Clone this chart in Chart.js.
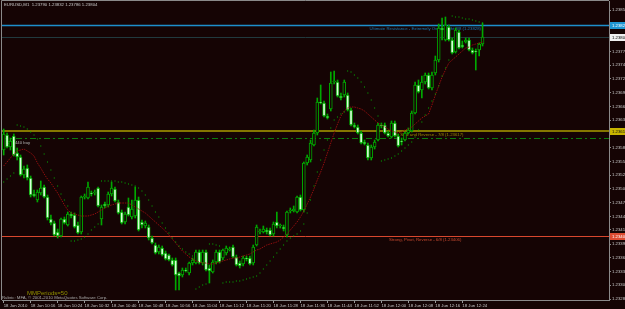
<!DOCTYPE html>
<html>
<head>
<meta charset="utf-8">
<script src="https://cdn.jsdelivr.net/npm/chart.js@4.4.1/dist/chart.umd.min.js"></script>
<style>
  html, body { margin: 0; padding: 0; background: #150404; }
  canvas { display: block; }
</style>
</head>
<body>
<canvas id="myChart_eurusd" width="625" height="309"></canvas>
<script>
var symbol = 'EURUSD,M1';
var slotCount = 180;
var timeLabels = ['18 Jun 2010', '18 Jun 10:16', '18 Jun 10:24', '18 Jun 10:32', '18 Jun 10:40', '18 Jun 10:48',
  '18 Jun 10:56', '18 Jun 11:04', '18 Jun 11:12', '18 Jun 11:20', '18 Jun 11:28', '18 Jun 11:36', '18 Jun 11:44',
  '18 Jun 11:52', '18 Jun 12:00', '18 Jun 12:08', '18 Jun 12:16', '18 Jun 12:24'];

var opens = [
  1.23578, 1.23608, 1.23584, 1.23606, 1.23572, 1.23564, 1.23528, 1.23542, 1.23522, 1.23490,
  1.23478, 1.23492, 1.23504, 1.23484, 1.23440, 1.23432, 1.23414, 1.23406, 1.23440, 1.23428,
  1.23450, 1.23448, 1.23428, 1.23414, 1.23484, 1.23482, 1.23492, 1.23492, 1.23502, 1.23440,
  1.23470, 1.23468, 1.23490, 1.23500, 1.23474, 1.23454, 1.23434, 1.23464, 1.23444, 1.23446,
  1.23478, 1.23434, 1.23426, 1.23424, 1.23402, 1.23388, 1.23374, 1.23382, 1.23372, 1.23368,
  1.23358, 1.23358, 1.23332, 1.23328, 1.23338, 1.23332, 1.23352, 1.23352, 1.23374, 1.23352,
  1.23374, 1.23342, 1.23334, 1.23354, 1.23374, 1.23362, 1.23372, 1.23378, 1.23384, 1.23364,
  1.23352, 1.23350, 1.23362, 1.23362, 1.23352, 1.23388, 1.23414, 1.23414, 1.23418, 1.23418,
  1.23410, 1.23434, 1.23426, 1.23424, 1.23408, 1.23456, 1.23456, 1.23454, 1.23484, 1.23458,
  1.23552, 1.23558, 1.23588, 1.23612, 1.23674, 1.23672, 1.23646, 1.23660, 1.23714, 1.23714,
  1.23686, 1.23688, 1.23688, 1.23658, 1.23628, 1.23624, 1.23612, 1.23594, 1.23588, 1.23562,
  1.23584, 1.23598, 1.23628, 1.23628, 1.23612, 1.23604, 1.23632, 1.23606, 1.23596, 1.23598,
  1.23612, 1.23616, 1.23652, 1.23708, 1.23698, 1.23714, 1.23728, 1.23702, 1.23732, 1.23758,
  1.23822, 1.23798, 1.23824, 1.23798, 1.23774, 1.23814, 1.23788, 1.23794, 1.23798, 1.23778,
  1.23776, 1.23778, 1.23790
];
var highs = [
  1.23620, 1.23612, 1.23602, 1.23610, 1.23582, 1.23568, 1.23546, 1.23548, 1.23526, 1.23498,
  1.23498, 1.23516, 1.23508, 1.23488, 1.23448, 1.23436, 1.23420, 1.23442, 1.23444, 1.23454,
  1.23454, 1.23452, 1.23434, 1.23486, 1.23490, 1.23514, 1.23496, 1.23498, 1.23504, 1.23468,
  1.23474, 1.23494, 1.23514, 1.23504, 1.23478, 1.23458, 1.23454, 1.23482, 1.23478, 1.23504,
  1.23484, 1.23438, 1.23436, 1.23428, 1.23406, 1.23392, 1.23388, 1.23386, 1.23376, 1.23370,
  1.23362, 1.23362, 1.23334, 1.23342, 1.23342, 1.23354, 1.23362, 1.23378, 1.23378, 1.23378,
  1.23378, 1.23348, 1.23358, 1.23378, 1.23378, 1.23380, 1.23386, 1.23384, 1.23388, 1.23368,
  1.23356, 1.23366, 1.23366, 1.23366, 1.23388, 1.23428, 1.23420, 1.23426, 1.23422, 1.23422,
  1.23434, 1.23454, 1.23430, 1.23428, 1.23456, 1.23462, 1.23466, 1.23486, 1.23488, 1.23554,
  1.23568, 1.23598, 1.23618, 1.23682, 1.23708, 1.23676, 1.23650, 1.23734, 1.23736, 1.23718,
  1.23692, 1.23718, 1.23692, 1.23662, 1.23632, 1.23628, 1.23616, 1.23598, 1.23592, 1.23588,
  1.23598, 1.23632, 1.23632, 1.23632, 1.23616, 1.23636, 1.23636, 1.23610, 1.23602, 1.23614,
  1.23622, 1.23656, 1.23714, 1.23718, 1.23726, 1.23732, 1.23732, 1.23734, 1.23766, 1.23830,
  1.23842, 1.23844, 1.23828, 1.23802, 1.23822, 1.23818, 1.23796, 1.23802, 1.23802, 1.23782,
  1.23780, 1.23792, 1.23832
];
var lows = [
  1.23568, 1.23582, 1.23578, 1.23566, 1.23558, 1.23526, 1.23522, 1.23518, 1.23484, 1.23484,
  1.23474, 1.23488, 1.23482, 1.23438, 1.23428, 1.23406, 1.23402, 1.23404, 1.23430, 1.23426,
  1.23442, 1.23422, 1.23410, 1.23410, 1.23480, 1.23480, 1.23486, 1.23488, 1.23464, 1.23428,
  1.23462, 1.23464, 1.23486, 1.23474, 1.23450, 1.23430, 1.23430, 1.23446, 1.23440, 1.23442,
  1.23416, 1.23422, 1.23422, 1.23398, 1.23390, 1.23370, 1.23370, 1.23366, 1.23358, 1.23356,
  1.23346, 1.23298, 1.23298, 1.23324, 1.23334, 1.23328, 1.23348, 1.23350, 1.23350, 1.23348,
  1.23336, 1.23312, 1.23332, 1.23350, 1.23352, 1.23358, 1.23368, 1.23376, 1.23362, 1.23346,
  1.23342, 1.23346, 1.23356, 1.23348, 1.23348, 1.23386, 1.23410, 1.23412, 1.23410, 1.23406,
  1.23406, 1.23422, 1.23422, 1.23416, 1.23404, 1.23452, 1.23454, 1.23452, 1.23456, 1.23454,
  1.23548, 1.23554, 1.23586, 1.23608, 1.23670, 1.23644, 1.23640, 1.23656, 1.23710, 1.23684,
  1.23678, 1.23684, 1.23656, 1.23626, 1.23622, 1.23610, 1.23590, 1.23588, 1.23558, 1.23558,
  1.23580, 1.23596, 1.23622, 1.23610, 1.23604, 1.23602, 1.23604, 1.23584, 1.23588, 1.23596,
  1.23610, 1.23614, 1.23650, 1.23692, 1.23682, 1.23710, 1.23700, 1.23698, 1.23728, 1.23754,
  1.23798, 1.23796, 1.23796, 1.23770, 1.23772, 1.23780, 1.23782, 1.23792, 1.23776, 1.23770,
  1.23738, 1.23766, 1.23786
];
var closes = [
  1.23610, 1.23584, 1.23596, 1.23568, 1.23564, 1.23528, 1.23540, 1.23522, 1.23488, 1.23486,
  1.23494, 1.23502, 1.23484, 1.23442, 1.23432, 1.23408, 1.23406, 1.23440, 1.23432, 1.23450,
  1.23446, 1.23424, 1.23412, 1.23484, 1.23486, 1.23504, 1.23490, 1.23494, 1.23466, 1.23464,
  1.23466, 1.23490, 1.23502, 1.23476, 1.23452, 1.23432, 1.23450, 1.23448, 1.23460, 1.23478,
  1.23418, 1.23428, 1.23432, 1.23402, 1.23392, 1.23372, 1.23384, 1.23368, 1.23360, 1.23358,
  1.23348, 1.23328, 1.23326, 1.23338, 1.23336, 1.23352, 1.23358, 1.23374, 1.23352, 1.23374,
  1.23338, 1.23336, 1.23354, 1.23374, 1.23354, 1.23378, 1.23382, 1.23380, 1.23364, 1.23348,
  1.23346, 1.23362, 1.23360, 1.23350, 1.23384, 1.23424, 1.23416, 1.23420, 1.23414, 1.23408,
  1.23430, 1.23426, 1.23428, 1.23420, 1.23454, 1.23458, 1.23460, 1.23484, 1.23458, 1.23552,
  1.23564, 1.23592, 1.23612, 1.23674, 1.23672, 1.23646, 1.23642, 1.23712, 1.23716, 1.23686,
  1.23682, 1.23714, 1.23658, 1.23628, 1.23624, 1.23612, 1.23592, 1.23590, 1.23562, 1.23584,
  1.23594, 1.23628, 1.23626, 1.23612, 1.23606, 1.23632, 1.23606, 1.23586, 1.23594, 1.23612,
  1.23618, 1.23652, 1.23708, 1.23694, 1.23714, 1.23728, 1.23702, 1.23728, 1.23758, 1.23822,
  1.23818, 1.23828, 1.23798, 1.23772, 1.23818, 1.23782, 1.23784, 1.23798, 1.23778, 1.23772,
  1.23774, 1.23790, 1.23804
];
// moving average (dark red)
var maValues = [
  1.23546, 1.23554, 1.23562, 1.23570, 1.23576, 1.23578, 1.23580, 1.23576, 1.23572, 1.23566,
  1.23552, 1.23542, 1.23530, 1.23520, 1.23512, 1.23502, 1.23492, 1.23480, 1.23468, 1.23458,
  1.23452, 1.23450, 1.23448, 1.23446, 1.23446, 1.23446, 1.23448, 1.23450, 1.23454, 1.23458,
  1.23462, 1.23466, 1.23468, 1.23470, 1.23472, 1.23472, 1.23472, 1.23472, 1.23468, 1.23464,
  1.23460, 1.23456, 1.23452, 1.23446, 1.23440, 1.23434, 1.23428, 1.23422, 1.23416, 1.23408,
  1.23400, 1.23392, 1.23384, 1.23376, 1.23370, 1.23364, 1.23360, 1.23356, 1.23354, 1.23352,
  1.23352, 1.23350, 1.23350, 1.23352, 1.23354, 1.23356, 1.23358, 1.23360, 1.23362, 1.23362,
  1.23364, 1.23366, 1.23368, 1.23370, 1.23374, 1.23378, 1.23380, 1.23384, 1.23388, 1.23390,
  1.23392, 1.23394, 1.23398, 1.23404, 1.23410, 1.23418, 1.23426, 1.23434, 1.23444, 1.23456,
  1.23470, 1.23484, 1.23500, 1.23518, 1.23534, 1.23552, 1.23572, 1.23592, 1.23612, 1.23630,
  1.23646, 1.23656, 1.23662, 1.23664, 1.23664, 1.23662, 1.23660, 1.23656, 1.23650, 1.23644,
  1.23638, 1.23632, 1.23628, 1.23624, 1.23620, 1.23616, 1.23614, 1.23612, 1.23614, 1.23618,
  1.23620, 1.23624, 1.23630, 1.23636, 1.23642, 1.23646, 1.23650, 1.23668, 1.23688, 1.23706,
  1.23724, 1.23738, 1.23752, 1.23758, 1.23764, 1.23770, 1.23776, 1.23782, 1.23784, 1.23788,
  1.23790, 1.23792, 1.23794
];
// parabolic SAR (green dots)
var sarValues = [
  1.23514, 1.23520, 1.23526, 1.23532, 1.23628, 1.23626, 1.23624, 1.23620, 1.23614, 1.23608,
  1.23600, 1.23586, 1.23570, 1.23554, 1.23538, 1.23522, 1.23506, 1.23490, 1.23478, 1.23466,
  1.23396, 1.23396, 1.23398, 1.23400, 1.23404, 1.23410, 1.23418, 1.23424, 1.23430, 1.23516,
  1.23516, 1.23516, 1.23516, 1.23516, 1.23514, 1.23514, 1.23512, 1.23510, 1.23508, 1.23506,
  1.23502, 1.23496, 1.23488, 1.23478, 1.23466, 1.23454, 1.23444, 1.23432, 1.23422, 1.23412,
  1.23402, 1.23394, 1.23386, 1.23380, 1.23374, 1.23370, 1.23366, 1.23300, 1.23304, 1.23308,
  1.23310, 1.23390, 1.23390, 1.23388, 1.23386, 1.23312, 1.23314, 1.23314, 1.23314, 1.23316,
  1.23316, 1.23318, 1.23320, 1.23322, 1.23324, 1.23326, 1.23332, 1.23340, 1.23348, 1.23356,
  1.23364, 1.23372, 1.23380, 1.23388, 1.23396, 1.23402, 1.23406, 1.23410, 1.23416, 1.23430,
  1.23452, 1.23478, 1.23506, 1.23534, 1.23558, 1.23578, 1.23598, 1.23622, 1.23638, 1.23644,
  1.23650, 1.23654, 1.23736, 1.23734, 1.23728, 1.23722, 1.23714, 1.23704, 1.23692, 1.23678,
  1.23662, 1.23646, 1.23556, 1.23558, 1.23560, 1.23562, 1.23566, 1.23570, 1.23576, 1.23582,
  1.23588, 1.23594, 1.23604, 1.23618, 1.23634, 1.23648, 1.23662, 1.23676, 1.23690, 1.23706,
  1.23726, 1.23742, 1.23758, 1.23846, 1.23844, 1.23844, 1.23842, 1.23840, 1.23840, 1.23838,
  1.23836, 1.23834, 1.23832
];

var yTicks = [1.23280, 1.23308, 1.23335, 1.23363, 1.23390, 1.23418, 1.23445, 1.23473, 1.23500, 1.23528, 1.23555,
  1.23583, 1.23610, 1.23638, 1.23665, 1.23693, 1.23720, 1.23748, 1.23775, 1.23803, 1.23830, 1.23858];
var yMin = 1.23278, yMax = 1.23876;

// Murrey Math lines
var mmLabels = ['Ultimate Resistance - Extremely Overbought 8/8', 'Weak, Stall and Reverse - 7/8', 'Strong, Pivot, Reverse - 6/8'];
var mmPrices = [1.23828, 1.23617, 1.23406];
var orderPrice = 1.23601;
var orderLabel = '#1290440 buy';
var bidPrice = closes[closes.length - 1];

var slots = [];
for (var i = 0; i < slotCount; i++) slots.push(i);

var bg = '#150404';
var green = '#00a800';
var bodyColors = closes.map(function (c, i) { return c >= opens[i] ? bg : '#d8ffd8'; });
var font = '"Liberation Sans", Arial, sans-serif';

var overlay = {
  id: 'overlay',
  beforeDraw: function (chart) {
    var c = chart.ctx;
    c.save();
    c.fillStyle = bg;
    c.fillRect(0, 0, chart.width, chart.height);
    c.restore();
  },
  beforeDatasetsDraw: function (chart) {
    var c = chart.ctx, a = chart.chartArea, y = chart.scales.y, x = chart.scales.x;
    c.save();
    function hline(price, color, width, dash) {
      var py = Math.round(y.getPixelForValue(price)) + (width % 2 ? 0.5 : 0);
      c.beginPath();
      c.setLineDash(dash || []);
      c.strokeStyle = color;
      c.lineWidth = width;
      c.moveTo(a.left, py);
      c.lineTo(a.right, py);
      c.stroke();
    }
    hline(bidPrice, '#213a3e', 1);
    hline(orderPrice, '#0b7d0b', 1, [6, 3, 2, 3]);
    hline(mmPrices[0], '#1e8fcc', 1.5);
    hline(mmPrices[1], '#857600', 2);
    hline(mmPrices[2], '#d8472e', 1);

    c.setLineDash([]);
    c.font = '4.3px ' + font;
    c.textBaseline = 'middle';
    c.textAlign = 'center';
    var tx = x.getPixelForValue(125);
    var textColors = ['#1a7bb4', '#9a8a00', '#c84a30'];
    mmLabels.forEach(function (t, i) {
      c.fillStyle = textColors[i];
      c.fillText(t + ' (' + mmPrices[i].toFixed(5) + ')', tx, y.getPixelForValue(mmPrices[i]) + 4);
    });
    c.textAlign = 'left';
    c.fillStyle = '#b4b4b4';
    c.fillText(orderLabel, a.left + 1, y.getPixelForValue(orderPrice) + 4);
    c.restore();
  },
  afterDraw: function (chart) {
    var c = chart.ctx, a = chart.chartArea, y = chart.scales.y;
    c.save();
    // frame
    c.strokeStyle = '#8a8a8a';
    c.lineWidth = 1;
    c.beginPath();
    c.moveTo(a.left - 0.5, a.bottom);
    c.lineTo(a.left - 0.5, a.top - 0.5);
    c.lineTo(a.right, a.top - 0.5);
    c.stroke();

    function axisBox(price, fill, textColor) {
      var py = Math.round(y.getPixelForValue(price));
      c.fillStyle = fill;
      c.fillRect(a.right + 1, py - 3, chart.width - a.right - 1, 7);
      c.fillStyle = textColor;
      c.font = '4.3px ' + font;
      c.textAlign = 'left';
      c.textBaseline = 'middle';
      c.fillText(price.toFixed(5), a.right + 3, py + 0.5);
    }
    axisBox(mmPrices[0], '#1e96d2', '#ffffff');
    axisBox(bidPrice, '#f0f0f0', '#000000');
    axisBox(mmPrices[1], '#c8b400', '#101010');
    axisBox(mmPrices[2], '#dc4b32', '#ffffff');

    var n = closes.length - 1;
    c.fillStyle = '#c8c8c8';
    c.font = '4.3px ' + font;
    c.textAlign = 'left';
    c.textBaseline = 'middle';
    c.fillText(symbol + '  ' + opens[n].toFixed(5) + ' ' + highs[n].toFixed(5) + ' ' + lows[n].toFixed(5) + ' ' + closes[n].toFixed(5), a.left + 2, 5);

    c.fillStyle = '#8f8f00';
    c.font = '6px ' + font;
    c.fillText('MMPeriods=50', 27, 293);
    c.fillStyle = '#a8a8a8';
    c.font = '4.3px ' + font;
    c.fillText('Rubric: MFA, \u00a9 2001-2010 MetaQuotes Software Corp.', a.left, 297.5);
    c.restore();
  }
};

var ctx = document.getElementById('myChart_eurusd');
var myChart = new Chart(ctx, {
  type: 'bar',
  data: {
    labels: slots,
    datasets: [
      {
        type: 'line',
        data: sarValues,
        showLine: false,
        pointStyle: 'rect',
        pointRadius: 0.7,
        pointHoverRadius: 0,
        pointBorderWidth: 0,
        pointBackgroundColor: '#00b800',
        order: 0
      },
      {
        type: 'line',
        data: maValues,
        borderColor: '#8e0e0e',
        borderWidth: 1,
        borderDash: [1.5, 1],
        pointRadius: 0,
        pointHoverRadius: 0,
        tension: 0,
        order: 1
      },
      {
        data: opens.map(function (o, i) { return [o, closes[i]]; }),
        backgroundColor: bodyColors,
        borderColor: green,
        borderWidth: 1,
        borderSkipped: false,
        barThickness: 3,
        grouped: false,
        order: 2
      },
      {
        data: lows.map(function (l, i) { return [l, highs[i]]; }),
        backgroundColor: green,
        barThickness: 1,
        grouped: false,
        order: 3
      }
    ]
  },
  options: {
    responsive: false,
    animation: false,
    devicePixelRatio: 1,
    layout: { autoPadding: false, padding: { left: 2, top: 1, right: 0, bottom: 0 } },
    plugins: { legend: { display: false }, tooltip: { enabled: false } },
    scales: {
      x: {
        offset: true,
        grid: {
          offset: false,
          drawOnChartArea: false,
          tickLength: 3,
          color: function (c) { return c.index % 8 === 0 && c.index / 8 < timeLabels.length ? '#9a9a9a' : 'rgba(0,0,0,0)'; }
        },
        border: { color: '#8a8a8a' },
        ticks: {
          autoSkip: false,
          maxRotation: 0,
          minRotation: 0,
          align: 'start',
          padding: 0,
          color: '#c8c8c8',
          font: { family: font, size: 4.3 },
          callback: function (v, i) { return i % 8 === 0 && i / 8 < timeLabels.length ? timeLabels[i / 8] : ''; }
        },
        afterFit: function (s) { s.height = 9; s.paddingLeft = 0; s.paddingRight = 0; }
      },
      y: {
        position: 'right',
        min: yMin,
        max: yMax,
        grid: { drawOnChartArea: false, tickLength: 2, color: '#8a8a8a' },
        border: { color: '#8a8a8a' },
        ticks: {
          padding: 1,
          color: '#c8c8c8',
          font: { family: font, size: 4.3 },
          callback: function (v) { return Number(v).toFixed(5); }
        },
        afterBuildTicks: function (s) { s.ticks = yTicks.map(function (v) { return { value: v }; }); },
        afterFit: function (s) { s.width = 16; s.paddingTop = 0; s.paddingBottom = 0; }
      }
    }
  },
  plugins: [overlay]
});
</script>
</body>
</html>
